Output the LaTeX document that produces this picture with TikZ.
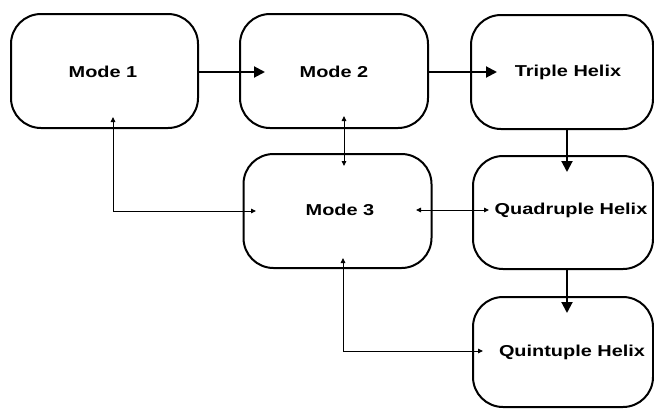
\documentclass[tikz,border=0pt]{standalone}
\usepackage{fontspec}
\setmainfont{Liberation Sans}
\usetikzlibrary{arrows.meta}
\begin{document}
\begin{tikzpicture}[x=1pt,y=-1pt,
  box/.style={draw=black,line width=2pt,rounded corners=30pt,inner sep=0pt},
  lbl/.style={font=\fontsize{15.8}{18}\selectfont\bfseries,inner sep=0pt},
  big/.style={line width=2pt,-{Triangle[length=11pt,width=11pt]}},
  thin/.style={line width=0.9pt,{Triangle[length=5pt,width=4.5pt]}-{Triangle[length=5pt,width=4.5pt]}}]
\useasboundingbox (0,0) rectangle (654,408);
\fill[white] (0,0) rectangle (654,408);
% boxes
\node[box,minimum width=187pt,minimum height=114pt] (m1) at (104.5,71) {};
\node[box,minimum width=188pt,minimum height=114pt] (m2) at (334,71) {};
\node[box,minimum width=182pt,minimum height=114pt] (th) at (562,72) {};
\node[box,minimum width=188pt,minimum height=114pt] (m3) at (337.5,211) {};
\node[box,minimum width=180pt,minimum height=113pt] (qh) at (563,212.5) {};
\node[box,minimum width=180pt,minimum height=110pt] (qi) at (563,352) {};
% labels
\node[lbl] (t1) at (103,72) {\scalebox{1.26}[1]{Mode 1}};
\node[lbl] (t2) at (334,72) {\scalebox{1.26}[1]{Mode 2}};
\node[lbl] (t3) at (568,72) {\scalebox{1.26}[1]{Triple Helix}};
\node[lbl] (t4) at (340,210) {\scalebox{1.26}[1]{Mode 3}};
\node[lbl] (t5) at (571,210) {\scalebox{1.26}[1]{Quadruple Helix}};
\node[lbl] (t6) at (572,352) {\scalebox{1.26}[1]{Quintuple Helix}};
% thick arrows
\coordinate (a1) at (265,72);
\coordinate (a2) at (497,72);
\coordinate (a3) at (567,172);
\coordinate (a4) at (567,313);
\draw[big] (m1.east |- a1) -- (a1);
\draw[big] (m2.east |- a2) -- (a2);
\draw[big] (th.south -| a3) -- (a3);
\draw[big] (qh.south -| a4) -- (a4);
% thin arrows
\coordinate (b1) at (113,117);
\coordinate (b2) at (256,211);
\draw[thin] (b1) -- (b1 |- b2) -- (b2);
\coordinate (c1) at (344,116);
\coordinate (c2) at (344,166);
\draw[thin] (c1) -- (c2);
\coordinate (d1) at (416,210);
\coordinate (d2) at (489,210);
\draw[thin] (d1) -- (d2);
\coordinate (e1) at (343,258);
\coordinate (e2) at (483,351);
\draw[thin] (e1) -- (e1 |- e2) -- (e2);
\end{tikzpicture}
\end{document}
